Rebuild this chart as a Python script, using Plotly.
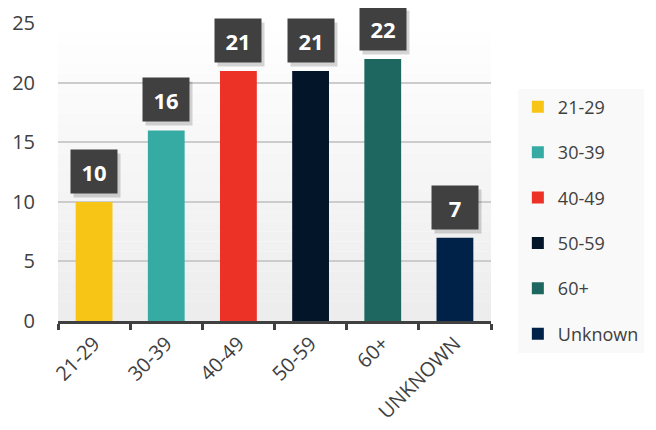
import plotly.graph_objects as go

categories = ["21-29", "30-39", "40-49", "50-59", "60+", "UNKNOWN"]
legend_names = ["21-29", "30-39", "40-49", "50-59", "60+", "Unknown"]
values = [10, 16, 21, 21, 22, 7]
colors = ["#F6C515", "#36ABA4", "#EC3127", "#021529", "#1E6761", "#012248"]
y_ticks = [0, 5, 10, 15, 20, 25]

FONT = "Open Sans"
fig = go.Figure()

for cat, name, val, col in zip(categories, legend_names, values, colors):
    fig.add_trace(go.Bar(
        x=[cat], y=[val], name=name, marker=dict(color=col, line=dict(width=0)),
        legendgroup=name, showlegend=True, width=0.51,
    ))

# background vertical gradient (white at top to light gray at bottom)
n = 30
for i in range(n):
    y0 = i / n
    y1 = (i + 1) / n
    t = i / (n - 1)
    g = int(237 + (255 - 237) * t)
    fig.add_shape(type="rect", xref="paper", yref="paper", x0=0, x1=1, y0=y0, y1=y1,
                  fillcolor=f"rgb({g},{g},{g})", line=dict(width=0), layer="below")

# value labels: shadow + dark box
for cat, val in zip(categories, values):
    fig.add_annotation(x=cat, y=val, text=" ", showarrow=False,
                       yanchor="bottom", yshift=4, xshift=3, width=44, height=41,
                       bgcolor="rgba(0,0,0,0.16)", font=dict(size=20, family=FONT))
    fig.add_annotation(x=cat, y=val, text=f"<b>{val}</b>", showarrow=False,
                       yanchor="bottom", yshift=8, width=44, height=41,
                       bgcolor="#404040", font=dict(size=22, color="white", family=FONT))

fig.update_layout(
    width=648, height=422,
    margin=dict(l=50, r=157, t=15, b=109),
    paper_bgcolor="white",
    plot_bgcolor="rgba(0,0,0,0)",
    bargap=0.49,
    font=dict(family=FONT, color="#404040"),
    legend=dict(
        x=1.062, y=0.78, xanchor="left", yanchor="top",
        bgcolor="#f9f9f9", font=dict(size=18, color="#404040", family=FONT),
        tracegroupgap=19, itemwidth=30, borderwidth=0,
    ),
    xaxis=dict(
        type="category", tickangle=-45, tickfont=dict(size=20, color="#404040"),
        showline=True, linecolor="#404040", linewidth=3,
        ticks="outside", tickson="boundaries", ticklen=6, tickwidth=3, tickcolor="#404040",
        showgrid=False, automargin=False,
    ),
    yaxis=dict(
        range=[0, 25.02], tickvals=y_ticks, tickfont=dict(size=20, color="#404040"),
        showgrid=True, gridcolor="#cccccc", gridwidth=2, zeroline=False,
        showline=False, ticks="", ticklabelstandoff=22, automargin=False,
        ticklabeloverflow="allow",
    ),
)

fig.write_html("out.html")
